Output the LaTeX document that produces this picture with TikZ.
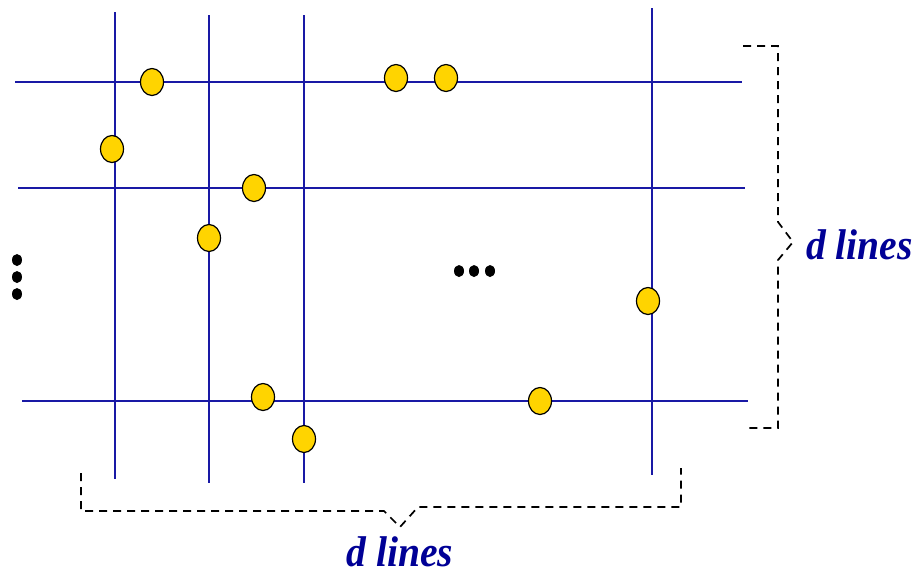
\documentclass[tikz,border=0pt]{standalone}
\usepackage{fontspec}
\setmainfont{Liberation Serif}
\usetikzlibrary{shapes.geometric}
\definecolor{gridblue}{RGB}{25,25,165}
\definecolor{labelblue}{RGB}{0,0,150}
\definecolor{dotyellow}{RGB}{255,212,0}
\tikzset{
  gridline/.style={draw=gridblue, line width=1.5pt},
  pt/.style={ellipse, draw=black, line width=1.2pt, fill=dotyellow, minimum width=23pt, minimum height=27pt, inner sep=0pt},
  bigdot/.style={ellipse, fill=black, minimum width=10pt, minimum height=12pt, inner sep=0pt},
  bracket/.style={draw=black, line width=1.7pt, dash pattern=on 8pt off 6pt},
  lbl/.style={text=labelblue, font=\fontsize{43}{48}\selectfont\bfseries\itshape, inner sep=0pt, text depth=0pt, xscale=0.92}
}
\begin{document}
\begin{tikzpicture}[x=1pt,y=-1pt]
\useasboundingbox (0,0) rectangle (917,576);
% horizontal lines
\coordinate (h1a) at (15,82);  \coordinate (h1b) at (742,82);
\coordinate (h2a) at (18,188); \coordinate (h2b) at (745,188);
\coordinate (h3a) at (22,401); \coordinate (h3b) at (748,401);
% vertical lines
\coordinate (v1a) at (115,12); \coordinate (v1b) at (115,479);
\coordinate (v2a) at (209,15); \coordinate (v2b) at (209,483);
\coordinate (v3a) at (304,15); \coordinate (v3b) at (304,483);
\coordinate (v4a) at (652,8);  \coordinate (v4b) at (652,475);
\draw[gridline] (h1a) -- (h1b);
\draw[gridline] (h2a) -- (h2b);
\draw[gridline] (h3a) -- (h3b);
\draw[gridline] (v1a) -- (v1b);
\draw[gridline] (v2a) -- (v2b);
\draw[gridline] (v3a) -- (v3b);
\draw[gridline] (v4a) -- (v4b);
% points
\node[pt] (p1) at (152,82) {};
\node[pt] (p2) at (396,78) {};
\node[pt] (p3) at (446,78) {};
\node[pt] (p4) at (112,149) {};
\node[pt] (p5) at (254,188) {};
\node[pt] (p6) at (209,238) {};
\node[pt] (p7) at (263,397) {};
\node[pt] (p8) at (304,439) {};
\node[pt] (p9) at (540,401) {};
\node[pt] (p10) at (648,301) {};
% ellipsis dots
\node[bigdot] (vd1) at (17,260) {};
\node[bigdot] (vd2) at (17,277) {};
\node[bigdot] (vd3) at (17,294) {};
\node[bigdot] (hd1) at (459,271) {};
\node[bigdot] (hd2) at (474,271) {};
\node[bigdot] (hd3) at (490,271) {};
% right bracket
\coordinate (r1) at (743,46);
\coordinate (r2) at (778,46);
\coordinate (r3) at (778,222);
\coordinate (rtip) at (793,242);
\coordinate (r4) at (778,260);
\coordinate (r5) at (778,428);
\coordinate (r6) at (746,428);
\draw[bracket] (r1) -- (r2) -- (r3) -- (rtip) -- (r4) -- (r5) -- (r6);
\node[lbl, anchor=base west] (rlabel) at (806,259) {d lines};
% bottom bracket
\coordinate (b1) at (81,473);
\coordinate (b2) at (81,511);
\coordinate (b3) at (384,511);
\coordinate (btip) at (400,527);
\coordinate (b4) at (418,507);
\coordinate (b5) at (681,507);
\coordinate (b6) at (681,468);
\draw[bracket] (b1) -- (b2) -- (b3) -- (btip) -- (b4) -- (b5) -- (b6);
\node[lbl, anchor=base] (blabel) at (400,566) {d lines};
\end{tikzpicture}
\end{document}
